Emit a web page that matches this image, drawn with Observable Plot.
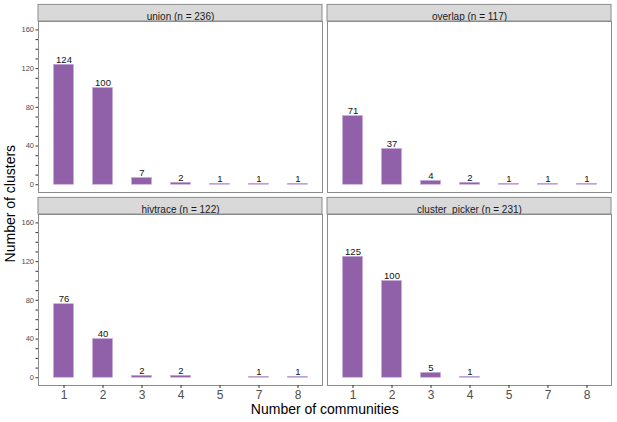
<!DOCTYPE html>
<html>
<head>
<meta charset="utf-8">
<script src="https://cdn.jsdelivr.net/npm/d3@7"></script>
<script src="https://cdn.jsdelivr.net/npm/@observablehq/plot@0.6"></script>
<style>
  html, body { margin: 0; padding: 0; background: #fff; }
  #chart svg { display: block; }
</style>
</head>
<body>
<div id="chart"></div>
<script>
// ---- data ----
const categories = ["1", "2", "3", "4", "5", "7", "8"];
const methods = ["union", "overlap", "hivtrace", "cluster_picker"];
const methodSizes = [236, 117, 122, 231];
const unionCounts = [124, 100, 7, 2, 1, 1, 1];
const overlapCounts = [71, 37, 4, 2, 1, 1, 1];
const hivtraceCounts = [76, 40, 2, 2, null, 1, 1];
const clusterPickerCounts = [125, 100, 5, 1, null, null, null];
const yTicks = [0, 40, 80, 120, 160];

const countsByMethod = [unionCounts, overlapCounts, hivtraceCounts, clusterPickerCounts];
const panels = methods.map((m, i) => ({
  method: m, col: i % 2, row: Math.floor(i / 2),
  label: `${m} (n = ${methodSizes[i]})`
}));
const rows = [];
methods.forEach((m, i) => {
  countsByMethod[i].forEach((v, j) => {
    if (v != null) rows.push({method: m, col: i % 2, row: Math.floor(i / 2), k: categories[j], n: v});
  });
});

const W = 617, H = 422;
const mL = 37.5, mR = 5, mT = 21.3, mB = 36;
const yTop = 168.7;
const font = "Liberation Sans, Arial, Helvetica, sans-serif";

const chart = Plot.plot({
  width: W, height: H,
  marginLeft: mL, marginRight: mR, marginTop: mT, marginBottom: mB,
  style: {fontFamily: font, background: "#fff"},
  fx: {domain: [0, 1], paddingInner: 0.0186, paddingOuter: 0, axis: null},
  fy: {domain: [0, 1], paddingInner: 0.112, paddingOuter: 0, axis: null},
  x: {domain: categories, paddingInner: 0.5, paddingOuter: 0.35, align: 0.5, axis: null},
  y: {domain: [-8, yTop], axis: null},
  marks: [
    // strips
    Plot.rect(panels, {fx: "col", fy: "row", y1: yTop, y2: yTop, insetTop: -16.6,
      fill: "#d9d9d9", stroke: "#8c8c8c", strokeWidth: 1}),
    Plot.text(panels, {fx: "col", fy: "row", frameAnchor: "top", dy: -8.3, text: "label",
      fontSize: 10, fill: "#1a1a1a"}),
    // bars
    Plot.barY(rows, {fx: "col", fy: "row", x: "k", y: "n",
      fill: "#9061a9", stroke: "#c9acd9", strokeWidth: 0.6}),
    Plot.text(rows, {fx: "col", fy: "row", x: "k", y: "n", text: d => String(d.n),
      dy: -5, fontSize: 9.5, fill: "#111"}),
    // panel border
    Plot.frame({stroke: "#8c8c8c", strokeWidth: 1}),
    // axes
    Plot.axisY({facetAnchor: "left", ticks: d3.range(0, 161, 10), tickSize: 2.5, tickPadding: 2,
      tickFormat: d => yTicks.includes(d) ? String(d) : "", fontSize: 7.5, color: "#4d4d4d",
      stroke: "#333", label: null}),
    Plot.axisX({facetAnchor: "bottom", tickSize: 3, tickPadding: 1.5, fontSize: 12,
      color: "#4d4d4d", stroke: "#333", label: null})
  ]
});

const svg = d3.select(chart);
svg.append("text")
  .attr("x", (mL + (W - mR)) / 2).attr("y", 410)
  .attr("text-anchor", "middle").attr("dominant-baseline", "middle")
  .attr("font-family", font).attr("font-size", 14).attr("fill", "#000")
  .text("Number of communities");
svg.append("text")
  .attr("transform", `translate(11,${(mT + H - mB) / 2}) rotate(-90)`)
  .attr("text-anchor", "middle").attr("dominant-baseline", "middle")
  .attr("font-family", font).attr("font-size", 14).attr("fill", "#000")
  .text("Number of clusters");

document.getElementById("chart").appendChild(chart);
</script>
</body>
</html>
